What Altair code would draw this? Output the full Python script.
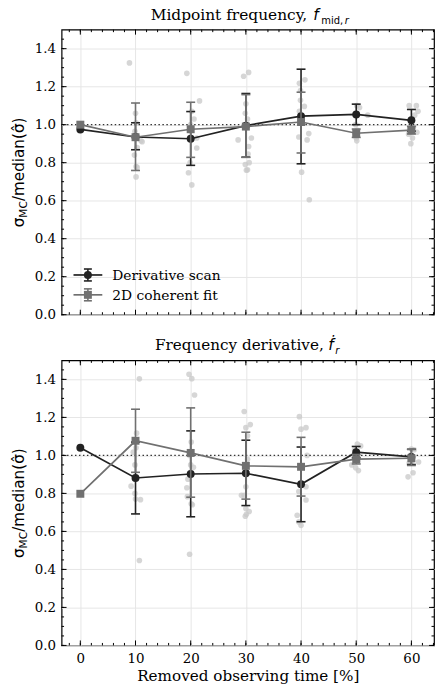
import altair as alt
import pandas as pd

# ---------------- data ----------------
x_pos = [0, 10, 20, 30, 40, 50, 60]
series_names = ["Derivative scan", "2D coherent fit"]

# Top panel: midpoint frequency
top_scan = [0.975, 0.935, 0.926, 0.995, 1.045, 1.054, 1.023]
top_scan_lo = [None, 0.868, 0.786, 0.829, 0.794, 1.000, 0.966]
top_scan_hi = [None, 1.010, 1.069, 1.164, 1.292, 1.108, 1.080]
top_fit = [1.000, 0.934, 0.976, 0.990, 1.014, 0.955, 0.971]
top_fit_lo = [None, 0.759, 0.828, 0.828, 0.851, 0.933, 0.951]
top_fit_hi = [None, 1.114, 1.118, 1.158, 1.171, 0.977, 0.991]

top_pts_x = [8.9, 10.0, 10.1, 9.9, 10.2, 11.0, 11.2, 10.3, 9.8, 10.1, 10.3, 10.1,
             19.3, 21.6, 20.2, 20.6, 20.0, 19.8, 21.1, 21.1, 19.9, 19.6, 20.2,
             29.6, 30.5, 30.0, 29.9, 30.3, 28.6, 31.0, 30.5, 30.4, 29.9, 30.6, 30.3, 30.1,
             39.7, 40.7, 39.9, 39.9, 40.6, 39.7, 41.1, 41.4, 39.6, 40.1, 41.5,
             50.1, 50.6, 52.1, 49.9, 50.2, 49.8, 50.0, 50.1,
             59.6, 60.9, 61.2, 60.6, 60.0, 60.4, 59.7, 61.0, 59.5, 60.2, 59.9]
top_pts_y = [1.325, 1.06, 1.01, 0.965, 0.94, 0.915, 0.91, 0.88, 0.84, 0.78, 0.775, 0.725,
             1.27, 1.125, 1.07, 1.03, 1.00, 0.97, 0.93, 0.877, 0.80, 0.747, 0.683,
             1.255, 1.275, 1.11, 1.06, 1.03, 0.92, 0.93, 0.885, 0.846, 0.79, 0.80, 0.763, 0.76,
             1.218, 1.236, 1.18, 1.128, 1.096, 1.07, 0.92, 0.953, 0.935, 0.75, 0.605,
             1.10, 1.09, 1.05, 1.00, 0.97, 0.95, 0.93, 0.915,
             1.10, 1.10, 1.07, 1.05, 1.00, 0.99, 0.98, 0.96, 0.95, 0.93, 0.90]

# Bottom panel: frequency derivative
bot_scan = [1.040, 0.881, 0.902, 0.906, 0.848, 1.017, 0.992]
bot_scan_lo = [None, 0.692, 0.677, 0.736, 0.651, 0.987, 0.952]
bot_scan_hi = [None, 1.070, 1.129, 1.080, 1.044, 1.047, 1.032]
bot_fit = [0.798, 1.077, 1.013, 0.945, 0.940, 0.980, 0.985]
bot_fit_lo = [None, 0.911, 0.780, 0.770, 0.786, 0.955, 0.947]
bot_fit_hi = [None, 1.243, 1.250, 1.122, 1.095, 1.005, 1.032]

bot_pts_x = [10.7, 10.2, 9.6, 10.1, 9.9, 9.9, 9.2, 9.9, 10.0, 10.9, 10.7,
             19.7, 20.2, 20.7, 20.1, 19.8, 20.0, 20.5, 19.5, 19.3, 19.4, 20.1, 20.3, 19.8,
             29.7, 30.8, 30.0, 30.3, 30.3, 30.0, 29.2, 29.7, 30.0, 30.1, 30.6, 29.9,
             39.7, 40.0, 40.9, 41.1, 40.9, 39.6, 40.9, 39.3, 39.6, 40.0,
             50.2, 50.8, 49.7, 50.0, 50.3, 49.2, 49.9, 50.4,
             59.4, 60.3, 61.3, 60.0, 60.5, 59.8, 60.1, 59.6]
bot_pts_y = [1.403, 1.117, 1.017, 1.04, 0.95, 0.88, 0.838, 0.80, 0.77, 0.767, 0.447,
             1.427, 1.404, 1.318, 1.07, 1.00, 0.95, 0.937, 0.875, 0.83, 0.783, 0.745, 0.74, 0.48,
             1.231, 1.162, 1.146, 1.103, 0.98, 0.835, 0.79, 0.79, 0.72, 0.69, 0.705, 0.68,
             1.204, 1.138, 1.146, 1.00, 0.835, 0.81, 0.765, 0.685, 0.65, 0.632,
             1.06, 1.05, 1.03, 1.00, 0.97, 0.95, 0.935, 0.92,
             0.887, 0.909, 0.965, 1.034, 1.03, 1.00, 0.97, 0.96]

# axis ticks
x_major = [0, 10, 20, 30, 40, 50, 60]
x_minor = list(range(-2, 65, 2))
y_major = [0.0, 0.2, 0.4, 0.6, 0.8, 1.0, 1.2, 1.4]
y_minor = [round(0.05 * i, 2) for i in range(0, 30)]

# ---------------- style ----------------
W, H = 375, 287
XD = [-3.4, 64.1]
YD = [0.0, 1.5]
C_SCAN = "#222222"
C_FIT = "#707070"
C_PTS = "#c8c8c8"
SERIF = "DejaVu Serif"
SANS = "DejaVu Sans"


def txt(s, x, y, size, font, style="normal", angle=0):
    return alt.Chart(pd.DataFrame({"s": [s]})).mark_text(
        align="left", baseline="alphabetic", font=font, fontSize=size,
        fontStyle=style, angle=angle, color="black"
    ).encode(text="s:N", x=alt.value(x), y=alt.value(y))


def make_panel(scan, scan_lo, scan_hi, fit, fit_lo, fit_hi, px, py,
               title_layers, bottom, legend):
    xs = alt.Scale(domain=XD, nice=False, zero=False)
    ys = alt.Scale(domain=YD, nice=False, zero=False)
    common = dict(grid=True, ticks=False, domain=False, labelFont=SERIF,
                  labelFontSize=13.5, labelColor="black", gridColor="#e6e6e6",
                  gridWidth=1)
    if bottom:
        xaxis = alt.Axis(values=x_major, labels=True, format="d", labelPadding=6,
                         titlePadding=4, titleFont=SERIF, titleFontSize=15.3,
                         titleFontWeight="normal", titleColor="black", **common)
        xtitle = "Removed observing time [%]"
    else:
        xaxis = alt.Axis(values=x_major, labels=False, **common)
        xtitle = None
    yaxis = alt.Axis(values=y_major, format=".1f", labelPadding=6, **common)

    def X(f):
        return alt.X(f, type="quantitative", scale=xs, axis=xaxis, title=xtitle)

    def Y(f):
        return alt.Y(f, type="quantitative", scale=ys, axis=yaxis, title=None)

    layers = []
    layers.append(
        alt.Chart(pd.DataFrame({"x": px, "y": py})).mark_circle(
            size=32, color=C_PTS, opacity=0.75
        ).encode(x=X("x"), y=Y("y"))
    )
    layers.append(
        alt.Chart(pd.DataFrame({"y": [1.0]})).mark_rule(
            color="#333333", strokeWidth=1.4, strokeDash=[1.5, 2.5]
        ).encode(y=Y("y"))
    )

    for vals, lo, hi, color, shape in [
        (scan, scan_lo, scan_hi, C_SCAN, "circle"),
        (fit, fit_lo, fit_hi, C_FIT, "square"),
    ]:
        df = pd.DataFrame({"x": x_pos, "v": vals, "lo": lo, "hi": hi})
        e = df.dropna()
        layers.append(alt.Chart(e).mark_rule(color=color, strokeWidth=1.6)
                      .encode(x=X("x"), y=Y("lo"), y2="hi"))
        for f in ["lo", "hi"]:
            layers.append(alt.Chart(e).mark_tick(
                color=color, orient="horizontal", size=9, thickness=1.6, opacity=1
            ).encode(x=X("x"), y=Y(f)))
        layers.append(alt.Chart(df[["x", "v"]]).mark_line(color=color, strokeWidth=1.7)
                      .encode(x=X("x"), y=Y("v")))
        layers.append(alt.Chart(df[["x", "v"]]).mark_point(
            shape=shape, filled=True, size=64, color=color, opacity=1
        ).encode(x=X("x"), y=Y("v")))

    # inward ticks on all four sides
    for vals, ln in [(x_major, 5), (x_minor, 2.5)]:
        d = pd.DataFrame({"t": vals})
        layers.append(alt.Chart(d).mark_rule(color="black", strokeWidth=1)
                      .encode(x=X("t"), y=alt.value(H), y2=alt.value(H - ln)))
        layers.append(alt.Chart(d).mark_rule(color="black", strokeWidth=1)
                      .encode(x=X("t"), y=alt.value(0), y2=alt.value(ln)))
    for vals, ln in [(y_major, 5), (y_minor, 2.5)]:
        d = pd.DataFrame({"t": vals})
        layers.append(alt.Chart(d).mark_rule(color="black", strokeWidth=1)
                      .encode(y=Y("t"), x=alt.value(0), x2=alt.value(ln)))
        layers.append(alt.Chart(d).mark_rule(color="black", strokeWidth=1)
                      .encode(y=Y("t"), x=alt.value(W), x2=alt.value(W - ln)))

    # y-axis label: sigma_MC / median(sigma-hat)
    layers.append(txt("σ", -38, 199, 15.3, SANS, angle=270))
    layers.append(txt("MC", -35, 189.3, 10.7, SANS, angle=270))
    layers.append(txt("/median(σ̂)", -38, 172.6, 15.3, SANS, angle=270))

    layers.extend(title_layers)

    if legend:
        for i, (name, color, shape) in enumerate([
            (series_names[0], C_SCAN, "circle"),
            (series_names[1], C_FIT, "square"),
        ]):
            yc = 247 + 20 * i
            one = alt.Chart(pd.DataFrame({"s": [name]}))
            layers.append(one.mark_rule(color=color, strokeWidth=1.7).encode(
                x=alt.value(12), x2=alt.value(41), y=alt.value(yc)))
            layers.append(one.mark_rule(color=color, strokeWidth=1.6).encode(
                x=alt.value(26.5), y=alt.value(yc - 6), y2=alt.value(yc + 6)))
            for dy in (-6, 6):
                layers.append(one.mark_rule(color=color, strokeWidth=1.6).encode(
                    x=alt.value(22.5), x2=alt.value(30.5), y=alt.value(yc + dy)))
            layers.append(one.mark_point(shape=shape, filled=True, size=64,
                                         color=color, opacity=1).encode(
                x=alt.value(26.5), y=alt.value(yc)))
            layers.append(one.mark_text(align="left", baseline="middle", font=SERIF,
                                        fontSize=13.9, color="black").encode(
                text="s:N", x=alt.value(51), y=alt.value(yc + 1)))

    return alt.layer(*layers).properties(width=W, height=H)


top_title = [
    txt("Midpoint frequency,", 89.7, -9.5, 15.5, SERIF),
    txt("f", 253.5, -9.5, 15.5, SANS, style="italic"),
    txt("mid,", 261.5, -6, 10, SANS),
    txt("r", 285, -6, 10, SANS, style="italic"),
]
bot_title = [
    txt("Frequency derivative,", 94, -10, 15.3, SERIF),
    txt("ḟ", 268.5, -10, 15.5, SANS, style="italic"),
    txt("r", 275.5, -6.5, 10, SANS, style="italic"),
]

top = make_panel(top_scan, top_scan_lo, top_scan_hi, top_fit, top_fit_lo, top_fit_hi,
                 top_pts_x, top_pts_y, top_title, bottom=False, legend=True)
bot = make_panel(bot_scan, bot_scan_lo, bot_scan_hi, bot_fit, bot_fit_lo, bot_fit_hi,
                 bot_pts_x, bot_pts_y, bot_title, bottom=True, legend=False)

chart = alt.vconcat(top, bot, spacing=46, bounds="flush").resolve_scale(
    x="independent", y="independent"
).properties(
    padding={"left": 11, "top": 4.5, "right": 0, "bottom": 0}
).configure_view(
    stroke="black", strokeWidth=1.2
).configure_axis(
    labelFont=SERIF, labelFontSize=13.5, labelColor="black",
    titleFont=SERIF, titleFontSize=15.3, titleFontWeight="normal", titleColor="black",
    gridColor="#e6e6e6", gridWidth=1
)

chart.save("out.html", embed_options={"renderer": "svg", "actions": False})
